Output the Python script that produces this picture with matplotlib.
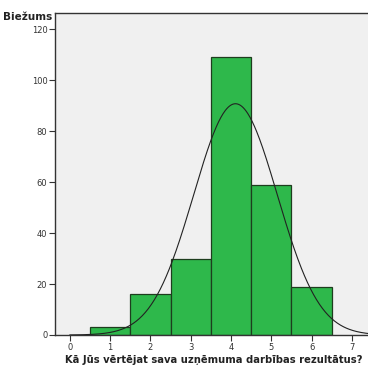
import numpy as np
import matplotlib
matplotlib.use("Agg")
import matplotlib.pyplot as plt

categories = [1, 2, 3, 4, 5, 6]
counts = [3, 16, 30, 109, 59, 19]
xticks = [0, 1, 2, 3, 4, 5, 6, 7]
yticks = [0, 20, 40, 60, 80, 100, 120]

fig = plt.figure(figsize=(3.68, 3.69), dpi=100)
ax = fig.add_axes([55/368, 1-335/369, 313/368, (335-13)/369])
ax.set_facecolor('#f0f0f0')

ax.bar(categories, counts, width=1.0, color='#2eb84b', edgecolor='#1e3d1e', linewidth=0.9, zorder=2)

x = np.array(categories, dtype=float)
w = np.array(counts, dtype=float)
n = w.sum()
mean = (x * w).sum() / n
sd = np.sqrt(((x - mean) ** 2 * w).sum() / (n - 1))
xmin, xmax = -0.37, 7.4
xs = np.linspace(0, xmax, 400)
ys = n / (sd * np.sqrt(2 * np.pi)) * np.exp(-0.5 * ((xs - mean) / sd) ** 2)
ax.plot(xs, ys, color='#222222', linewidth=0.8, zorder=3)

ax.set_xlim(xmin, xmax)
ax.set_ylim(0, 126.3)
ax.set_xticks(xticks)
ax.set_yticks(yticks)
ax.tick_params(labelsize=6, colors='#333333', length=4, width=0.8, pad=1.5)
for s in ['right']:
    ax.spines[s].set_visible(False)
for s in ['left', 'top', 'bottom']:
    ax.spines[s].set_color('#333333')
    ax.spines[s].set_linewidth(1.0)

fig.text(52/368, 1-17/369, 'Biežums', ha='right', va='center', fontsize=7.5, fontweight='bold', color='#222222')
fig.text(214/368, 1-360/369, 'Kā Jūs vērtējat sava uzņēmuma darbības rezultātus?', ha='center', va='center',
         fontsize=7.2, fontweight='bold', color='#222222')

fig.savefig('out.png', dpi=100)
